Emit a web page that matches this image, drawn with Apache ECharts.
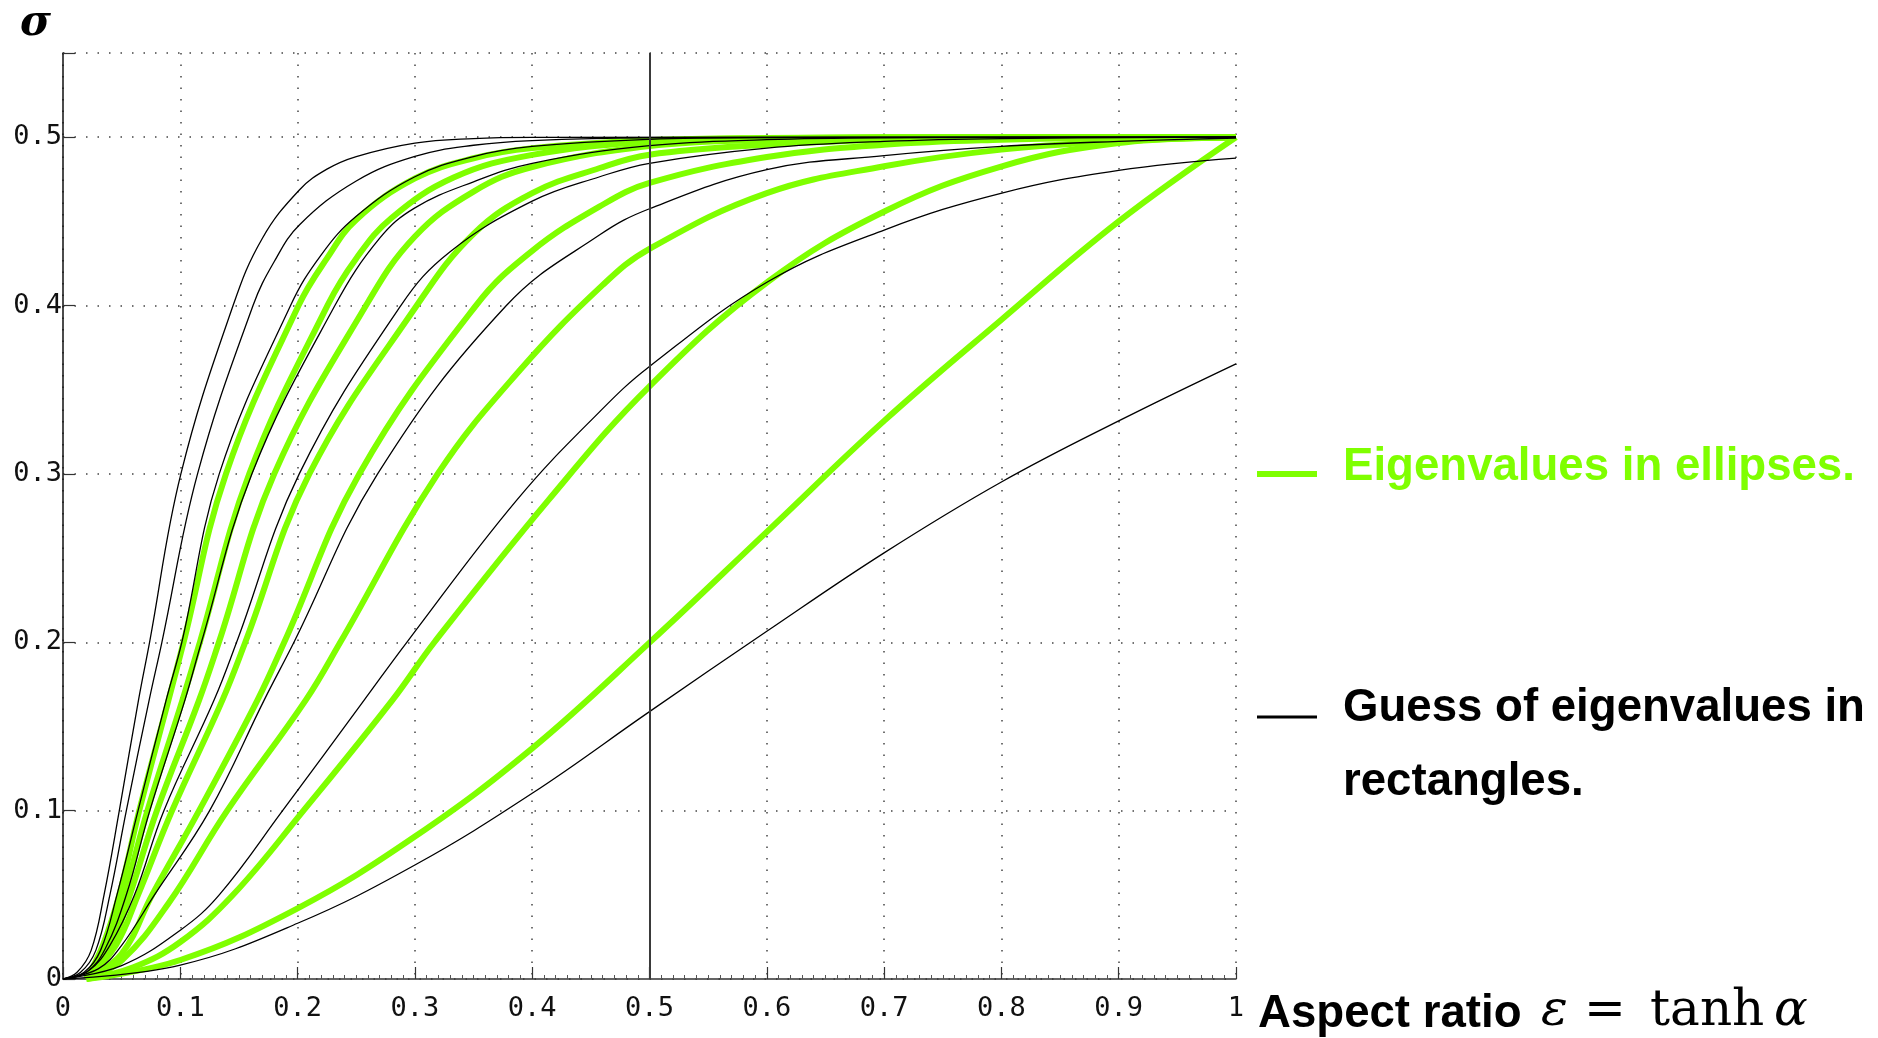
<!DOCTYPE html>
<html>
<head>
<meta charset="utf-8">
<title>Eigenvalues in ellipses and rectangles</title>
<script src="https://cdn.jsdelivr.net/npm/echarts@6/dist/echarts.min.js"></script>
<style>
    html, body { margin: 0; padding: 0; background: #fff; }
    #chart { width: 1878px; height: 1038px; }
</style>
</head>
<body>
<div id="chart"></div>
<script>
// Tick labels ---------------------------------------------------------
const xTickLabels = ['0', '0.1', '0.2', '0.3', '0.4', '0.5', '0.6', '0.7', '0.8', '0.9', '1'];
const yTickLabels = ['0', '0.1', '0.2', '0.3', '0.4', '0.5'];

// Eigenvalues in ellipses (thick green), [aspect ratio, sigma] --------
const ellipse1 = [[0.02, 0], [0.034, 0.02], [0.048, 0.05], [0.065, 0.1], [0.09, 0.1658], [0.1028, 0.2], [0.1389, 0.3], [0.2008, 0.4], [0.225, 0.428], [0.25, 0.451], [0.3, 0.4755], [0.35, 0.4875], [0.4, 0.4935], [0.5, 0.4982], [0.6, 0.4995], [0.8, 0.5], [1, 0.5]];
const ellipse2 = [[0.02, 0], [0.036, 0.018], [0.052, 0.05], [0.072, 0.1], [0.1019, 0.1658], [0.1167, 0.2], [0.1588, 0.3], [0.2254, 0.4], [0.25, 0.428], [0.28, 0.452], [0.333, 0.476], [0.4, 0.4895], [0.5, 0.4973], [0.6, 0.4993], [0.8, 0.5], [1, 0.5]];
const ellipse3 = [[0.02, 0], [0.04, 0.018], [0.057, 0.05], [0.08, 0.1], [0.1161, 0.1658], [0.1329, 0.2], [0.1801, 0.3], [0.2583, 0.4], [0.3, 0.441], [0.35, 0.4677], [0.4, 0.4823], [0.5, 0.4947], [0.6, 0.4984], [0.7, 0.4995], [1, 0.5]];
const ellipse4 = [[0.02, 0], [0.045, 0.02], [0.064, 0.05], [0.093, 0.1], [0.136, 0.1658], [0.1554, 0.2], [0.21, 0.3], [0.3016, 0.4], [0.35, 0.4426], [0.4, 0.4668], [0.4576, 0.4817], [0.5, 0.4896], [0.6, 0.4955], [0.7, 0.4985], [0.8, 0.4996], [1, 0.5]];
const ellipse5 = [[0.02, 0], [0.05, 0.015], [0.076, 0.05], [0.116, 0.1], [0.1659, 0.1658], [0.1886, 0.2], [0.2526, 0.3], [0.352, 0.4], [0.4, 0.4325], [0.4576, 0.4589], [0.5, 0.4728], [0.6, 0.4882], [0.7, 0.4955], [0.8, 0.4985], [0.9, 0.4995], [1, 0.5]];
const ellipse6 = [[0.02, 0], [0.05, 0.011], [0.09, 0.045], [0.14, 0.1], [0.2071, 0.1658], [0.2364, 0.2], [0.3194, 0.3], [0.39, 0.362], [0.4604, 0.4124], [0.5, 0.4337], [0.6, 0.4668], [0.7, 0.4827], [0.8, 0.4926], [0.9, 0.4975], [1, 0.4999]];
const ellipse7 = [[0.02, 0], [0.06, 0.007], [0.1, 0.022], [0.145, 0.05], [0.205, 0.1], [0.281, 0.1658], [0.3166, 0.2], [0.414, 0.2846], [0.5, 0.352], [0.6012, 0.4143], [0.7006, 0.456], [0.8004, 0.4827], [0.9, 0.4966], [1, 0.5]];
const ellipse8 = [[0.02, 0], [0.1, 0.0113], [0.2, 0.042], [0.3, 0.0846], [0.4, 0.137], [0.5, 0.1998], [0.6, 0.2656], [0.7, 0.3315], [0.8, 0.3916], [0.9, 0.45], [1, 0.5]];

// Guess of eigenvalues in rectangles (thin black) ---------------------
const rect1 = [[0, 0], [0.012, 0.004], [0.024, 0.017], [0.035, 0.05], [0.048, 0.1], [0.0644, 0.1658], [0.0738, 0.2], [0.1005, 0.3], [0.145, 0.4], [0.17, 0.44], [0.2017, 0.4688], [0.225, 0.481], [0.25, 0.4885], [0.3, 0.4965], [0.35, 0.4992], [0.4, 0.4999], [1, 0.5]];
const rect2 = [[0, 0], [0.015, 0.004], [0.028, 0.017], [0.04, 0.05], [0.054, 0.1], [0.0735, 0.1658], [0.0843, 0.2], [0.1147, 0.3], [0.162, 0.4], [0.18, 0.426], [0.2017, 0.448], [0.25, 0.474], [0.3, 0.4886], [0.35, 0.4952], [0.4, 0.498], [0.5, 0.4996], [1, 0.5]];
const rect3 = [[0, 0], [0.018, 0.004], [0.032, 0.017], [0.046, 0.05], [0.064, 0.1], [0.088, 0.1658], [0.1013, 0.2], [0.1332, 0.3], [0.194, 0.4], [0.22, 0.43], [0.25, 0.453], [0.3, 0.4765], [0.35, 0.4885], [0.4, 0.4945], [0.5, 0.4987], [0.6, 0.4997], [1, 0.5]];
const rect4 = [[0, 0], [0.02, 0.004], [0.036, 0.018], [0.054, 0.05], [0.074, 0.1], [0.104, 0.1658], [0.118, 0.2], [0.161, 0.3], [0.2318, 0.4], [0.27, 0.44], [0.3, 0.458], [0.35, 0.4735], [0.4, 0.4845], [0.5, 0.495], [0.6, 0.4985], [0.7, 0.4996], [1, 0.5]];
const rect5 = [[0, 0], [0.022, 0.005], [0.04, 0.02], [0.061, 0.05], [0.086, 0.1], [0.1289, 0.1658], [0.148, 0.2], [0.2014, 0.3], [0.288, 0.4], [0.33, 0.432], [0.4, 0.462], [0.4576, 0.4765], [0.5, 0.4845], [0.6, 0.4935], [0.7, 0.4975], [0.8, 0.4992], [1, 0.5]];
const rect6 = [[0, 0], [0.03, 0.006], [0.05, 0.02], [0.078, 0.05], [0.125, 0.1], [0.1716, 0.1658], [0.1969, 0.2], [0.2682, 0.3], [0.378, 0.4], [0.4576, 0.442], [0.5, 0.4575], [0.6, 0.4807], [0.7, 0.489], [0.8, 0.4945], [0.9, 0.4975], [1, 0.4995]];
const rect7 = [[0, 0], [0.05, 0.008], [0.1, 0.029], [0.1332, 0.05], [0.1872, 0.1], [0.2569, 0.1658], [0.2931, 0.2], [0.387, 0.2846], [0.4576, 0.337], [0.5, 0.3638], [0.6012, 0.4143], [0.7006, 0.445], [0.8004, 0.4668], [0.9, 0.4803], [1, 0.4876]];
const rect8 = [[0, 0], [0.1, 0.0083], [0.2, 0.0331], [0.3, 0.0677], [0.4, 0.1103], [0.5, 0.1588], [0.6, 0.2065], [0.7, 0.2531], [0.8, 0.2952], [0.9, 0.3315], [1, 0.3654]];

const ellipseCurves = [ellipse1, ellipse2, ellipse3, ellipse4, ellipse5, ellipse6, ellipse7, ellipse8];
const rectCurves = [rect1, rect2, rect3, rect4, rect5, rect6, rect7, rect8];

// ---------------------------------------------------------------------
const GREEN = '#7fff00';
const tickFont = '"DejaVu Sans Mono", monospace';
const legendFont = '"Liberation Sans", Arial, sans-serif';
const mathFont = '"DejaVu Serif", serif';

const curveSeries = (data, color, width, z) => ({
    type: 'line',
    data: data,
    showSymbol: false,
    symbol: 'none',
    smooth: 0.4,
    lineStyle: {color: color, width: width},
    z: z,
    silent: true,
    animation: false
});

const series = [];
ellipseCurves.forEach(c => series.push(curveSeries(c, GREEN, 6, 2)));
rectCurves.forEach(c => series.push(curveSeries(c, '#000', 1.3, 3)));

// vertical reference line at aspect ratio 0.5
series[0].markLine = {
    silent: true,
    symbol: ['none', 'none'],
    label: {show: false},
    lineStyle: {color: '#3a3a3a', width: 2, type: 'solid'},
    data: [{xAxis: 0.5}]
};

const dotted = {color: '#444', width: 1.5, type: [1.5, 10]};

const mathText = (text, x, italic) => ({
    type: 'text', x: x, y: 1012,
    style: {text: text, font: (italic ? 'italic ' : '') + '50px ' + mathFont, fill: '#000', verticalAlign: 'middle'}
});

const chart = echarts.init(document.getElementById('chart'));
chart.setOption({
    backgroundColor: '#fff',
    animation: false,
    grid: {
        left: 63,
        right: 642,
        top: 53,
        bottom: 59,
        containLabel: false,
        outerBoundsMode: 'none'
    },
    xAxis: {
        type: 'value',
        min: 0,
        max: 1,
        interval: 0.1,
        axisLine: {show: true, onZero: false, lineStyle: {color: '#333', width: 1.5}},
        axisTick: {show: true, inside: true, length: 12, lineStyle: {color: '#333', width: 1.2}},
        minorTick: {show: true, splitNumber: 10, length: 4, lineStyle: {color: '#555', width: 1}},
        axisLabel: {
            margin: 16,
            fontFamily: tickFont,
            fontSize: 27,
            color: '#111',
            formatter: v => xTickLabels[Math.round(v * 10)] || ''
        },
        splitLine: {show: true, lineStyle: dotted}
    },
    yAxis: {
        type: 'value',
        min: 0,
        max: 0.55,
        interval: 0.1,
        axisLine: {show: true, onZero: false, lineStyle: {color: '#111', width: 1.5}},
        axisTick: {show: true, inside: true, length: 12, lineStyle: {color: '#333', width: 1.2}},
        axisLabel: {
            margin: 1,
            fontFamily: tickFont,
            fontSize: 27,
            color: '#111',
            formatter: v => yTickLabels[Math.round(v * 10)] || ''
        },
        splitLine: {show: true, lineStyle: dotted}
    },
    series: series,
    graphic: [
        {
            type: 'text', left: 20, top: 3,
            style: {text: 'σ', font: 'bold italic 42px ' + mathFont, fill: '#000'}
        },
        {
            type: 'line', shape: {x1: 1257, y1: 474, x2: 1317, y2: 474},
            style: {stroke: GREEN, lineWidth: 6}
        },
        {
            type: 'text', x: 1343, y: 467,
            style: {text: 'Eigenvalues in ellipses.', font: 'bold 45.6px ' + legendFont, fill: GREEN, verticalAlign: 'middle'}
        },
        {
            type: 'line', shape: {x1: 1257, y1: 717, x2: 1317, y2: 717},
            style: {stroke: '#000', lineWidth: 3}
        },
        {
            type: 'text', x: 1343, y: 708,
            style: {text: 'Guess of eigenvalues in', font: 'bold 45.6px ' + legendFont, fill: '#000', verticalAlign: 'middle'}
        },
        {
            type: 'text', x: 1343, y: 782,
            style: {text: 'rectangles.', font: 'bold 45.6px ' + legendFont, fill: '#000', verticalAlign: 'middle'}
        },
        {
            type: 'text', x: 1258, y: 1014,
            style: {text: 'Aspect ratio', font: 'bold 45.6px ' + legendFont, fill: '#000', verticalAlign: 'middle'}
        },
        mathText('ε', 1541, true),
        mathText('=', 1584, false),
        mathText('tanh', 1650, false),
        mathText('α', 1774, true)
    ]
});
</script>
</body>
</html>
